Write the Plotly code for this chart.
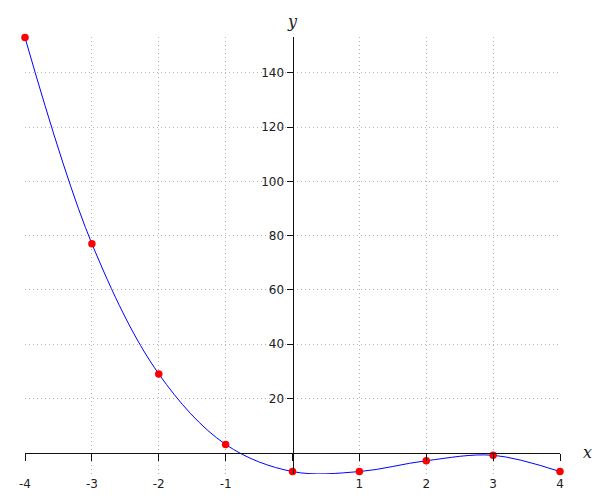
import plotly.graph_objects as go

x_vals = [-4, -3, -2, -1, 0, 1, 2, 3, 4]
y_vals = [153, 77, 29, 3, -7, -7, -3, -1, -7]
x_ticks = [-4, -3, -2, -1, 0, 1, 2, 3, 4]
x_grid = [-4, -3, -2, -1, 1, 2, 3, 4]
x_tick_text = ["-4", "-3", "-2", "-1", "", "1", "2", "3", "4"]
y_ticks = [20, 40, 60, 80, 100, 120, 140]

y_min, y_max = -7.9, 153.2
x0_frac = (0 - y_min) / (y_max - y_min)

fig = go.Figure()
fig.add_trace(go.Scatter(
    x=x_vals, y=y_vals, mode="lines",
    line=dict(color="blue", width=1, shape="spline", smoothing=1.0),
    hoverinfo="skip", showlegend=False))
fig.add_trace(go.Scatter(
    x=x_vals, y=y_vals, mode="markers", cliponaxis=False,
    marker=dict(color="red", size=7.5),
    showlegend=False))
# invisible trace on the overlaying x axis carrying the line at y=0
fig.add_trace(go.Scatter(x=[x_vals[0]], y=[0], xaxis="x2", mode="markers",
                         marker=dict(opacity=0), hoverinfo="skip", showlegend=False))

grid = dict(showgrid=True, gridcolor="#b4b4b4", griddash="1px,3px", gridwidth=1)
fig.update_layout(
    width=592, height=492,
    margin=dict(l=17, r=40, t=29, b=26, autoexpand=False),
    paper_bgcolor="white", plot_bgcolor="white",
    font=dict(family="DejaVu Sans", size=12, color="#222222"),
    xaxis=dict(range=[-4, 4], tickvals=x_grid, showticklabels=False,
               showline=False, zeroline=False, ticks="", automargin=False,
               **grid),
    xaxis2=dict(range=[-4, 4], overlaying="x", anchor="free", position=x0_frac,
                tickvals=x_ticks, ticktext=x_tick_text, showgrid=False,
                ticklabelstandoff=13, automargin=False,
                zeroline=False, showline=True, linecolor="#111111", linewidth=1,
                ticks="outside", ticklen=7, tickcolor="#111111", tickwidth=1),
    yaxis=dict(range=[y_min, y_max], tickvals=y_ticks, anchor="free", position=0.5,
               showline=True, linecolor="#111111", linewidth=1, zeroline=False,
               ticks="outside", ticklen=6, tickcolor="#111111", tickwidth=1,
               automargin=False,
               **grid),
    annotations=[
        dict(text="x", x=4, y=0, xref="x", yref="y", xanchor="left", yanchor="middle",
             xshift=21, showarrow=False,
             font=dict(family="DejaVu Serif", size=16, color="#222222"),
             ),
        dict(text="y", x=0, y=1, xref="x", yref="paper", xanchor="center", yanchor="bottom",
             yshift=4, showarrow=False,
             font=dict(family="DejaVu Serif", size=16, color="#222222")),
    ],
)
fig.layout.annotations[0].font.style = "italic"
fig.layout.annotations[1].font.style = "italic"
fig.write_html("out.html")
